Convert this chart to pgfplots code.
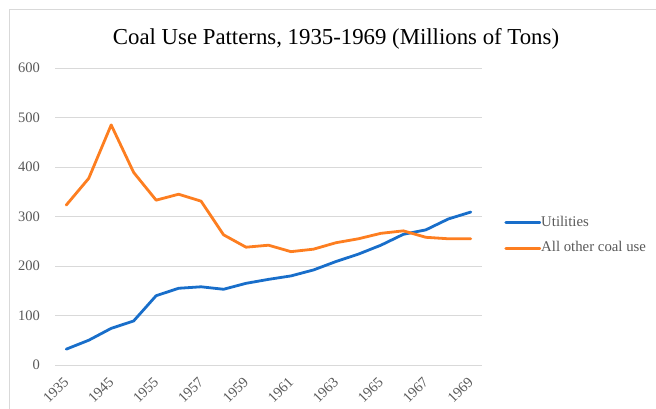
\documentclass[border=0pt]{standalone}
\usepackage{fontspec}
\setmainfont{Liberation Serif}
\usepackage{pgfplots}
\pgfplotsset{compat=1.18}
\definecolor{ublue}{RGB}{24,110,202}
\definecolor{uorange}{RGB}{253,126,32}
\definecolor{gridgray}{RGB}{217,217,217}
\definecolor{txtgray}{RGB}{89,89,89}
\begin{document}
\begin{tikzpicture}
\useasboundingbox (0pt,0pt) rectangle (656pt,408pt);
\draw[gridgray, line width=1pt] (9.5pt,-2pt) -- (9.5pt,398pt) -- (660pt,398pt);
\node[anchor=base, inner sep=0pt, font=\fontsize{22.8}{26}\selectfont] at (336pt,363pt) {Coal Use Patterns, 1935-1969 (Millions of Tons)};
\begin{axis}[
  at={(55pt,43pt)}, anchor=south west,
  scale only axis, width=427pt, height=297pt,
  xmin=-0.5, xmax=18.5, ymin=0, ymax=600,
  axis line style={draw=none},
  major tick length=0pt,
  ytick={0,100,...,600},
  ymajorgrids, grid style={gridgray, line width=1pt},
  xtick={0,2,...,18},
  xticklabels={1935,1945,1955,1957,1959,1961,1963,1965,1967,1969},
  /pgf/number format/assume math mode=true,
  tick label style={font=\fontsize{14.5}{17}\selectfont, text=txtgray},
  yticklabel style={anchor=east, inner sep=0pt, xshift=-15pt},
  xticklabel style={rotate=45, anchor=east, inner sep=0pt},
  xticklabel shift=15pt,
  legend style={at={(1.045,0.436)}, anchor=west, draw=none, fill=none,
    font=\fontsize{14.8}{17}\selectfont, text=txtgray,
    nodes={inner sep=0pt, text height=10pt, text depth=3pt},
    row sep=12.5pt, column sep=0pt},
  legend cell align=left,
  legend image code/.code={\draw[#1, line width=2.8pt] (0pt,0pt) -- (34pt,0pt);},
]
\addplot[ublue, line width=2.8pt, line join=round, line cap=round] coordinates {
(0,32) (1,50) (2,74) (3,89) (4,140) (5,155) (6,158) (7,153) (8,165) (9,173)
(10,180) (11,192) (12,209) (13,224) (14,242) (15,264) (16,273) (17,295) (18,309)};
\addlegendentry{Utilities}
\addplot[uorange, line width=2.8pt, line join=round, line cap=round] coordinates {
(0,323) (1,377) (2,485) (3,389) (4,333) (5,345) (6,331) (7,263) (8,238) (9,242)
(10,229) (11,234) (12,247) (13,255) (14,266) (15,271) (16,258) (17,255) (18,255)};
\addlegendentry{All other coal use}
\end{axis}
\end{tikzpicture}
\end{document}
